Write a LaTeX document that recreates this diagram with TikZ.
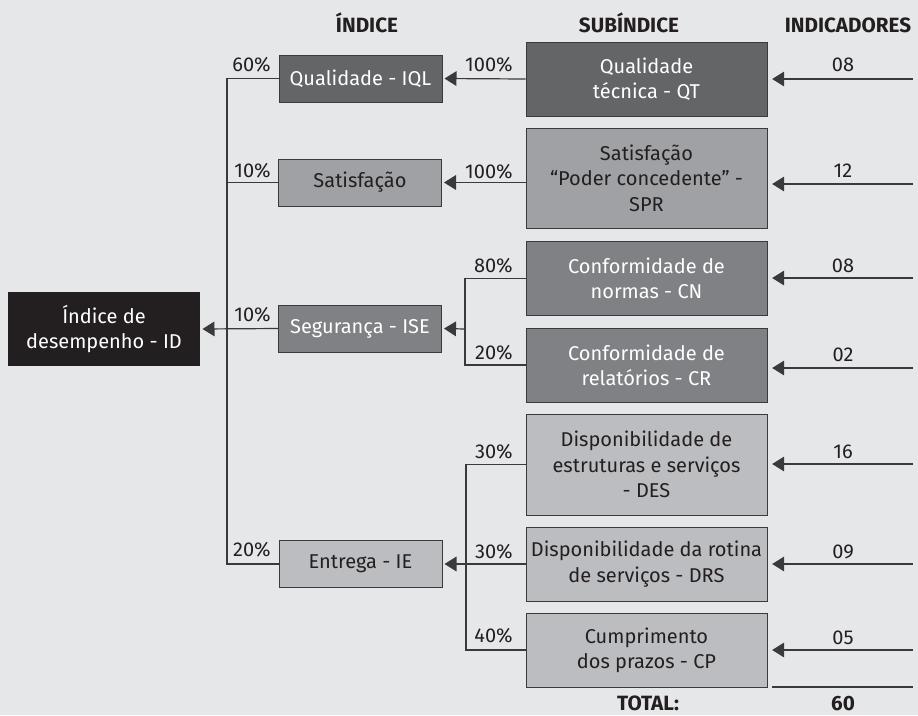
\documentclass[tikz,border=0pt]{standalone}
\usepackage{fontspec}
\setmainfont{Fira Sans}
\usetikzlibrary{arrows.meta}

\definecolor{bgcol}{HTML}{E6E7E9}
\definecolor{inkcol}{HTML}{231F20}
\definecolor{linecol}{HTML}{3A3A3C}
\definecolor{darkbox}{HTML}{646567}
\definecolor{midbox}{HTML}{808184}
\definecolor{greybox}{HTML}{A0A1A4}
\definecolor{lightbox}{HTML}{BCBDC0}

\tikzset{
  box/.style={draw=linecol, line width=0.75pt, inner sep=0pt, align=center,
    font=\fontsize{15}{19}\selectfont},
  idxbox/.style={box, minimum width=122.25pt, minimum height=35.25pt},
  subbox/.style={box, minimum width=180.75pt, minimum height=55.5pt},
  pct/.style={inner sep=0pt, text=inkcol, font=\fontsize{15}{18}\selectfont},
  num/.style={pct, anchor=base},
  head/.style={inner sep=0pt, anchor=base, text=inkcol, font=\fontsize{15.5}{18}\selectfont\bfseries},
  link/.style={draw=linecol, line width=0.9pt},
  arr/.style={link, -{Triangle[length=9pt,width=11pt]}, shorten >=1.5pt},
  inarr/.style={arr, shorten >=3.5pt}
}

\begin{document}
\begin{tikzpicture}[x=0.75pt,y=0.75pt,yscale=-1,xscale=1]
%set diagram left start at 0, and has height of 715
\fill[bgcol] (0,0) rectangle (918,715);

% Column heads
\node[head] (hIdx) at (367,32) {ÍNDICE};
\node[head] (hSub) at (629,32) {SUBÍNDICE};
\node[head] (hInd) at (848,32) {INDICADORES};

% Main index
\node[box, draw=none, fill=inkcol, text=white, minimum width=144pt, minimum height=55.5pt] (ID) at (104,329) {Índice de\\desempenho - ID};

% Index boxes
\node[idxbox, fill=darkbox, text=white] (IQL) at (360.5,78.5) {Qualidade - IQL};
\node[idxbox, fill=greybox, text=inkcol] (SAT) at (360,182.5) {Satisfação};
\node[idxbox, fill=midbox, text=white] (ISE) at (360,328.5) {Segurança - ISE};
\node[idxbox, fill=lightbox, text=inkcol] (IE) at (360.5,564) {Entrega - IE};

% Subindex boxes
\node[subbox, fill=darkbox, text=white] (QT) at (646.5,79) {Qualidade\\técnica - QT};
\node[subbox, fill=greybox, text=inkcol, minimum height=75pt] (SPR) at (646.5,178) {Satisfação\\“Poder concedente” -\\SPR};
\node[subbox, fill=midbox, text=white] (CN) at (646.5,278.5) {Conformidade de\\normas - CN};
\node[subbox, fill=midbox, text=white] (CR) at (646.5,365) {Conformidade de\\relatórios - CR};
\node[subbox, fill=lightbox, text=inkcol, minimum height=75.75pt] (DES) at (646.5,464.5) {Disponibilidade de\\estruturas e serviços\\- DES};
\node[subbox, fill=lightbox, text=inkcol] (DRS) at (646.5,564) {Disponibilidade da rotina\\de serviços - DRS};
\node[subbox, fill=lightbox, text=inkcol] (CP) at (646.5,650) {Cumprimento\\dos prazos - CP};

% Index to main index
\coordinate (bID) at (227,329);
\draw[link] (IQL.west) -| (bID) |- (IE.west);
\draw[link] (SAT.west) -- (SAT.west -| bID);
\draw[arr] (ISE.west) -- (ID.east);

% Subindex to index
\draw[arr] (QT.west) -- (IQL.east);
\draw[arr] (SAT.east -| SPR.west) -- (SAT.east);
\coordinate (bISE) at (465,329);
\draw[link] (CN.west) -| (bISE) |- (CR.west);
\draw[arr] (bISE) -- (ISE.east);
\coordinate (bIE) at (466,564);
\draw[link] (DES.west) -| (bIE) |- (CP.west);
\draw[arr] (DRS.west) -- (IE.east);

% Indicators
\coordinate (iQT) at (913,79);
\coordinate (iSPR) at (913,184);
\coordinate (iCN) at (913,278);
\coordinate (iCR) at (913,368);
\coordinate (iDES) at (913,464);
\coordinate (iDRS) at (913,564);
\coordinate (iCP) at (913,650);
\draw[inarr] (iQT) -- (iQT -| QT.east);
\draw[inarr] (iSPR) -- (iSPR -| SPR.east);
\draw[inarr] (iCN) -- (iCN -| CN.east);
\draw[inarr] (iCR) -- (iCR -| CR.east);
\draw[inarr] (iDES) -- (iDES -| DES.east);
\draw[inarr] (iDRS) -- (iDRS -| DRS.east);
\draw[inarr] (iCP) -- (iCP -| CP.east);

% Total
\coordinate (tA) at (772,687);
\coordinate (tB) at (913,687);
\draw[link] (tA) -- (tB);

% Text Node
\node[pct, anchor=south east] (p60) at (271,72) {60\%};
\node[pct, anchor=south east] (p10a) at (271,178) {10\%};
\node[pct, anchor=south east] (p10b) at (271,322) {10\%};
\node[pct, anchor=south east] (p20a) at (271,557) {20\%};
\node[pct, anchor=south east] (p100a) at (513,72) {100\%};
\node[pct, anchor=south east] (p100b) at (513,179) {100\%};
\node[pct, anchor=south east] (p80) at (513,273) {80\%};
\node[pct, anchor=south east] (p20b) at (513,360) {20\%};
\node[pct, anchor=south east] (p30a) at (513,459) {30\%};
\node[pct, anchor=south east] (p30b) at (513,559) {30\%};
\node[pct, anchor=south east] (p40) at (513,643) {40\%};

\node[num] (nQT) at (843,71) {08};
\node[num] (nSPR) at (843,177) {12};
\node[num] (nCN) at (843,272) {08};
\node[num] (nCR) at (843,361) {02};
\node[num] (nDES) at (843,458) {16};
\node[num] (nDRS) at (843,558) {09};
\node[num] (nCP) at (843,644) {05};

\node[head] (tLab) at (648,710) {TOTAL:};
\node[head] (tNum) at (843,710) {60};

\end{tikzpicture}
\end{document}
